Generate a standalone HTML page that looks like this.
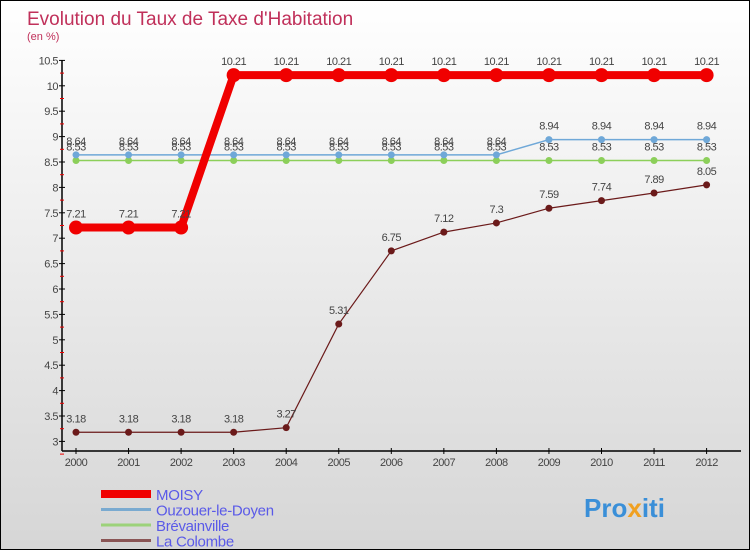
<!DOCTYPE html>
<html><head><meta charset="utf-8"><style>
body{margin:0;}
#c{width:748px;height:548px;border:1px solid #000;background:linear-gradient(#fff,#d6d6d6);position:relative;font-family:"Liberation Sans",sans-serif;}
svg{position:absolute;left:0;top:0}
</style></head><body>
<div id="c">
<svg id="s" width="748" height="548">
<text x="26" y="24" font-size="19" fill="#c0305a">Evolution du Taux de Taxe d'Habitation</text>
<text x="26" y="39" font-size="11" fill="#c0305a">(en %)</text>
<text x="583" y="516" font-size="26" font-weight="bold" fill="#3a8fd8">Pro<tspan fill="#f0a020">x</tspan>iti</text>
</svg></div>
<script>
const years=[2000,2001,2002,2003,2004,2005,2006,2007,2008,2009,2010,2011,2012];
const yTicks=[3,3.5,4,4.5,5,5.5,6,6.5,7,7.5,8,8.5,9,9.5,10,10.5];
const moisy=[7.21,7.21,7.21,10.21,10.21,10.21,10.21,10.21,10.21,10.21,10.21,10.21,10.21];
const ouzouer=[8.64,8.64,8.64,8.64,8.64,8.64,8.64,8.64,8.64,8.94,8.94,8.94,8.94];
const brevain=[8.53,8.53,8.53,8.53,8.53,8.53,8.53,8.53,8.53,8.53,8.53,8.53,8.53];
const colombe=[3.18,3.18,3.18,3.18,3.27,5.31,6.75,7.12,7.3,7.59,7.74,7.89,8.05];
const names=["MOISY","Ouzouer-le-Doyen","Brévainville","La Colombe"];
const s=document.getElementById('s');const NS="http://www.w3.org/2000/svg";
const X=i=>75+i*52.55, Y=v=>440.4-(v-3)*50.8;
function el(t,a,p){const e=document.createElementNS(NS,t);for(const k in a)e.setAttribute(k,a[k]);(p||s).appendChild(e);return e;}
let ax=el('line',{x1:61,y1:59,x2:61,y2:450,stroke:'#000','stroke-width':1.5});


let bx=el('line',{x1:61,y1:450,x2:740,y2:450,stroke:'#000','stroke-width':1.5});


yTicks.forEach(v=>{const y=Y(v);
el('line',{x1:58,x2:64,y1:y,y2:y,stroke:'#000'});
el('line',{x1:59,x2:63,y1:y+12.7,y2:y+12.7,stroke:'#e00'});
const t=el('text',{x:57,y:y+4,'font-size':11,'text-anchor':'end',fill:'#444','letter-spacing':'-0.5'});t.textContent=v;

});
years.forEach((yr,i)=>{const x=X(i);
el('line',{x1:x,x2:x,y1:447,y2:453,stroke:'#000'});
const t=el('text',{x:x,y:465,'font-size':11,'text-anchor':'middle',fill:'#444','letter-spacing':'-0.5'});t.textContent=yr;

});
function series(d,col,w,r,name,lab){
const g=el('g',{});


el('polyline',{points:d.map((v,i)=>X(i)+','+Y(v)).join(' '),fill:'none',stroke:col,'stroke-width':w},g);
d.forEach((v,i)=>{const c=el('circle',{cx:X(i),cy:Y(v),r:r,fill:col},g);


if(lab){const t=el('text',{x:X(i),y:Y(v)-10,'font-size':11,'text-anchor':'middle',fill:'#444','letter-spacing':'-0.5'},g);t.textContent=v;}});}
series(brevain,'#8ccf5a',1.5,3.5,'series-brevainville',true);
series(ouzouer,'#6fa8d8',1.5,3.5,'series-ouzouer',true);
series(colombe,'#6b1a1a',1.2,3.5,'series-la-colombe',true);
series(moisy,'#f00000',8,7,'series-moisy',true);
const cols=['#f00000','#7aaad0','#9cd27a','#8a5555'],ws=[8,3,3,3];
names.forEach((n,i)=>{const y=493+i*15.5;
const g=el('g',{});


el('line',{x1:100,x2:150,y1:y,y2:y,stroke:cols[i],'stroke-width':ws[i]},g);
const t=el('text',{x:155,y:y+6,'font-size':15,fill:'#5a5ae8','letter-spacing':'-0.3'},g);t.textContent=n;});
</script></body></html>
